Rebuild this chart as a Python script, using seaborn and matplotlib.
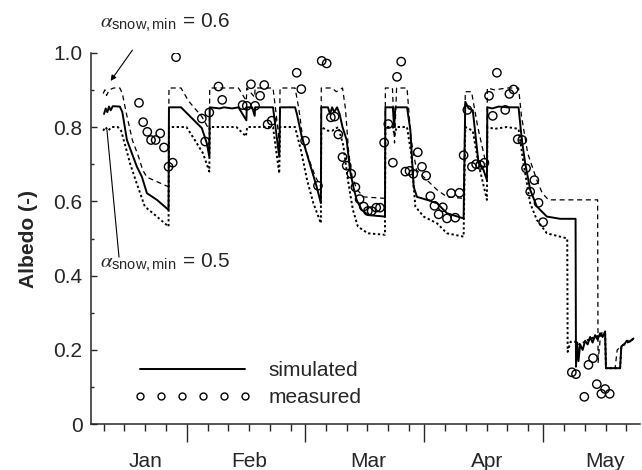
import numpy as np
import pandas as pd
import matplotlib
matplotlib.use("Agg")
import matplotlib.pyplot as plt
import matplotlib.transforms as mtransforms
from matplotlib.lines import Line2D
import seaborn as sns

# ---------------- data (x in days along the axis) ----------------
sim_day = [3.2, 3.6, 4.0, 4.4, 4.8, 5.3, 7.0, 7.6, 8.7, 9.9, 11.1, 12.3, 13.5, 15.9, 18.7,
           18.8, 21.7, 26.7, 27.9, 28.5, 28.6, 31.0, 32.0, 34.0, 35.5, 37.4, 37.5, 38.8, 39.4,
           39.5, 43.8, 45.3, 45.5, 49.1, 49.5, 50.7, 51.9, 53.1, 54.3, 55.3, 55.4, 57.0, 57.5,
           58.0, 58.5, 59.2, 59.8, 60.5, 61.5, 62.3, 63.1, 63.9, 65.1, 66.7, 70.7, 70.8, 72.6,
           72.9, 73.2, 76.0, 76.8, 77.6, 78.4, 80.8, 83.2, 85.6, 89.6, 90.0, 90.8, 91.8, 93.2,
           94.4, 95.2, 95.3, 96.5, 98.0, 100.0, 102.8, 103.6, 104.4, 105.6, 107.2, 109.6, 112.8,
           116.5, 116.6, 116.9, 117.2, 117.6, 118.2, 118.8, 119.4, 120.0, 120.6, 121.2, 121.8,
           122.4, 123.0, 123.6, 123.8, 127.2, 127.5, 128.2, 128.8, 129.5, 130.4]
sim_val = [0.835, 0.85, 0.84, 0.855, 0.845, 0.856, 0.855, 0.84, 0.765, 0.729, 0.693, 0.666, 0.622, 0.604, 0.577,
           0.853, 0.853, 0.797, 0.756, 0.72, 0.853, 0.85, 0.853, 0.85, 0.853, 0.818, 0.853, 0.853, 0.83,
           0.853, 0.853, 0.72, 0.853, 0.853, 0.837, 0.774, 0.729, 0.684, 0.639, 0.595, 0.853, 0.853, 0.835,
           0.853, 0.84, 0.853, 0.835, 0.80, 0.765, 0.684, 0.639, 0.604, 0.577, 0.563, 0.559, 0.853, 0.853,
           0.80, 0.853, 0.853, 0.792, 0.639, 0.612, 0.604, 0.595, 0.568, 0.554, 0.868, 0.85, 0.845, 0.702,
           0.684, 0.657, 0.853, 0.85, 0.855, 0.853, 0.853, 0.765, 0.702, 0.631, 0.586, 0.559, 0.553,
           0.553, 0.155, 0.22, 0.17, 0.215, 0.20, 0.225, 0.215, 0.235, 0.22, 0.24, 0.228,
           0.245, 0.235, 0.25, 0.151, 0.151, 0.21, 0.215, 0.225, 0.222, 0.231]

hi_day = [3.0, 3.4, 3.8, 4.5, 5.5, 7.0, 7.6, 8.5, 10.0, 11.5, 12.5, 13.5, 15.9, 18.7, 18.8, 21.7,
          23.5, 26.7, 28.5, 28.6, 35.5, 37.4, 37.5, 39.4, 39.5, 43.8, 45.3, 45.5, 49.1, 50.0, 51.0,
          52.5, 54.0, 55.3, 55.4, 58.0, 59.0, 60.5, 61.2, 62.0, 62.8, 64.0, 65.6, 70.7, 70.8, 72.5,
          73.0, 73.5, 76.0, 77.0, 78.3, 80.8, 83.2, 85.6, 89.6, 90.0, 91.5, 93.0, 95.2, 95.3, 97.0,
          100.0, 102.8, 103.5, 105.0, 107.2, 108.5, 110.0, 121.8, 121.9, 122.5, 123.0, 123.6, 123.8,
          126.0, 126.5, 127.4, 128.0, 130.4]
hi_val = [0.89, 0.90, 0.885, 0.90, 0.905, 0.905, 0.89, 0.84, 0.765, 0.72, 0.684, 0.665, 0.653, 0.639, 0.905, 0.905,
          0.87, 0.828, 0.792, 0.905, 0.905, 0.87, 0.905, 0.88, 0.905, 0.905, 0.765, 0.905, 0.905, 0.85, 0.765,
          0.711, 0.666, 0.639, 0.905, 0.905, 0.895, 0.905, 0.85, 0.729, 0.666, 0.631, 0.612, 0.608, 0.905, 0.905,
          0.757, 0.905, 0.905, 0.765, 0.684, 0.657, 0.631, 0.612, 0.608, 0.895, 0.895, 0.80, 0.69, 0.905, 0.90,
          0.905, 0.905, 0.83, 0.729, 0.657, 0.622, 0.604, 0.604, 0.165, 0.24, 0.25, 0.25, 0.151,
          0.151, 0.20, 0.21, 0.215, 0.23]

lo_day = [3.0, 3.5, 4.2, 5.0, 6.5, 7.3, 8.3, 9.5, 11.0, 13.0, 15.9, 18.7, 18.8, 23.0, 25.0, 27.0,
          28.5, 28.6, 35.0, 37.3, 37.6, 43.8, 45.3, 45.5, 49.1, 50.5, 52.0, 53.5, 55.3, 55.4, 57.0,
          58.0, 59.5, 60.7, 61.8, 63.0, 64.2, 66.6, 70.7, 70.8, 72.6, 73.0, 73.5, 76.0, 77.0, 78.0,
          80.0, 83.2, 85.6, 89.6, 90.0, 91.8, 93.2, 95.2, 95.3, 97.0, 100.0, 102.8, 104.0, 105.6,
          107.2, 109.6, 112.8, 114.5, 114.6, 115.3, 116.5, 117.5, 120.0, 123.6, 123.8, 127.2, 127.5, 130.4]
lo_val = [0.79, 0.80, 0.79, 0.80, 0.80, 0.79, 0.75, 0.70, 0.65, 0.586, 0.559, 0.532, 0.80, 0.80, 0.765, 0.729,
          0.68, 0.80, 0.80, 0.775, 0.80, 0.80, 0.675, 0.80, 0.80, 0.738, 0.657, 0.595, 0.541, 0.80, 0.79,
          0.79, 0.80, 0.75, 0.657, 0.577, 0.532, 0.514, 0.51, 0.80, 0.80, 0.777, 0.80, 0.80, 0.729, 0.586,
          0.559, 0.541, 0.514, 0.505, 0.80, 0.79, 0.70, 0.604, 0.80, 0.795, 0.80, 0.795, 0.702, 0.595,
          0.55, 0.514, 0.505, 0.50, 0.195, 0.222, 0.222, 0.215, 0.23, 0.245, 0.151, 0.151, 0.21, 0.23]

meas_day = [11.6, 12.6, 13.6, 14.5, 15.6, 16.7, 17.6, 18.7, 19.7, 20.5, 26.7, 27.5, 28.5, 30.7, 31.6,
            36.5, 37.5, 38.5, 39.5, 40.7, 41.7, 42.5, 43.5, 49.5, 50.6, 51.5, 54.6, 55.5, 56.7, 57.7,
            58.6, 59.5, 60.5, 61.5, 62.6, 63.6, 64.6, 65.6, 66.6, 67.5, 68.6, 69.5, 70.5, 71.5, 72.6,
            73.6, 74.6, 75.6, 76.6, 77.5, 78.6, 79.6, 80.6, 81.6, 82.6, 83.6, 84.6, 85.6, 86.6, 87.6,
            88.6, 89.6, 90.5, 91.6, 92.6, 93.6, 94.6, 95.7, 96.6, 97.6, 99.6, 100.6, 101.6, 102.6,
            103.7, 104.6, 105.6, 106.6, 107.6, 108.7, 115.6, 116.6, 118.6, 119.6, 120.7, 121.6,
            122.7, 123.6, 124.7]
meas_val = [0.865, 0.813, 0.787, 0.765, 0.765, 0.783, 0.745, 0.693, 0.704, 0.988, 0.823, 0.761, 0.839, 0.909, 0.873,
            0.859, 0.857, 0.915, 0.857, 0.884, 0.913, 0.807, 0.817, 0.946, 0.902, 0.763, 0.642, 0.978, 0.971, 0.826,
            0.828, 0.780, 0.719, 0.696, 0.674, 0.638, 0.606, 0.586, 0.574, 0.574, 0.583, 0.583, 0.758, 0.808, 0.704,
            0.935, 0.976, 0.680, 0.682, 0.674, 0.732, 0.693, 0.669, 0.614, 0.588, 0.565, 0.584, 0.554, 0.622, 0.556,
            0.623, 0.724, 0.846, 0.693, 0.700, 0.698, 0.704, 0.884, 0.830, 0.946, 0.846, 0.889, 0.901, 0.767,
            0.765, 0.689, 0.626, 0.657, 0.596, 0.544, 0.140, 0.135, 0.074, 0.160, 0.178, 0.108,
            0.082, 0.095, 0.082]

month_labels = ["Jan", "Feb", "Mar", "Apr", "May"]
month_label_pos = [13.1, 38.1, 66.7, 95.3, 123.7]
month_starts = [23.1, 51.5, 80.1, 108.7]

# ---------------- style ----------------
sns.set_style("ticks")
plt.rcParams["font.family"] = ["Liberation Sans", "DejaVu Sans"]
plt.rcParams["mathtext.fontset"] = "stix"

FS = 15

fig = plt.figure(figsize=(6.42, 4.70), dpi=100)
ax = fig.add_axes([0.1413, 0.0972, 0.8557, 0.7907])

df_sim = pd.DataFrame({"day": sim_day, "albedo": sim_val})
df_hi = pd.DataFrame({"day": hi_day, "albedo": hi_val})
df_lo = pd.DataFrame({"day": lo_day, "albedo": lo_val})
df_meas = pd.DataFrame({"day": meas_day, "albedo": meas_val})

sns.lineplot(data=df_hi, x="day", y="albedo", sort=False, estimator=None, ax=ax,
             color="black", lw=0.9, linestyle=(0, (4, 3)))
sns.lineplot(data=df_lo, x="day", y="albedo", sort=False, estimator=None, ax=ax,
             color="black", lw=1.4, linestyle=(0, (1.2, 1.3)))
sns.lineplot(data=df_sim, x="day", y="albedo", sort=False, estimator=None, ax=ax,
             color="black", lw=1.4)
sns.scatterplot(data=df_meas, x="day", y="albedo", ax=ax, marker="o", s=36,
                facecolor="none", edgecolor="black", linewidth=1.0, zorder=5)

ax.set_xlim(0, 132)
ax.set_ylim(0, 1.0)
ax.set_xlabel("")
ax.set_ylabel("Albedo (-)", fontsize=FS, fontweight="bold", labelpad=11)

# y ticks (inward)
ax.set_yticks([0, 0.2, 0.4, 0.6, 0.8, 1.0])
ax.set_yticklabels(["0", "0.2", "0.4", "0.6", "0.8", "1.0"])
ax.set_yticks([0.1, 0.3, 0.5, 0.7, 0.9], minor=True)
ax.tick_params(axis="y", which="major", direction="in", length=4.5, width=1.0, labelsize=FS, pad=6)
ax.tick_params(axis="y", which="minor", direction="in", length=2.5, width=1.0)

# x ticks: long at month boundaries, short every 5 days
minor = [month_starts[0] - 5 * k for k in range(1, 5)]
for m in month_starts:
    minor += [m + 5 * k for k in range(1, 6) if m + 5 * k < 132]
ax.set_xticks(month_starts)
ax.set_xticklabels([])
ax.set_xticks(sorted(minor), minor=True)
ax.tick_params(axis="x", which="major", direction="out", length=13, width=1.0)
ax.tick_params(axis="x", which="minor", direction="out", length=5, width=1.0)

trans = mtransforms.blended_transform_factory(ax.transData, ax.transAxes)
for lab, pos in zip(month_labels, month_label_pos):
    ax.text(pos, -0.101, lab, transform=trans, ha="center", va="center", fontsize=FS)

for side in ["top", "right"]:
    ax.spines[side].set_visible(False)
for side in ["left", "bottom"]:
    ax.spines[side].set_linewidth(1.1)

# annotations
ax.text(2.2, 1.08, r"$\alpha_{\mathregular{snow,min}}$ = 0.6", fontsize=FS,
        ha="left", va="center", clip_on=False)
ax.annotate("", xy=(4.4, 0.918), xytext=(10.4, 1.013), annotation_clip=False,
            arrowprops=dict(arrowstyle="-|>", color="black", lw=0.8, mutation_scale=8))
ax.text(2.2, 0.434, r"$\alpha_{\mathregular{snow,min}}$ = 0.5", fontsize=FS,
        ha="left", va="center")
ax.plot([6.8, 3.9], [0.45, 0.792], color="black", lw=0.8)

# legend
handles = [Line2D([], [], color="black", lw=1.4),
           Line2D([], [], color="black", marker="o", ms=5, mfc="none", mew=1.0, linestyle="none")]
ax.legend(handles, ["simulated", "measured"], loc="upper left",
          bbox_to_anchor=(0.079, 0.17), frameon=False, fontsize=FS, numpoints=6,
          handlelength=5.6, handletextpad=0.85, labelspacing=0.39, borderpad=0, borderaxespad=0)

fig.savefig("out.png", dpi=100)
